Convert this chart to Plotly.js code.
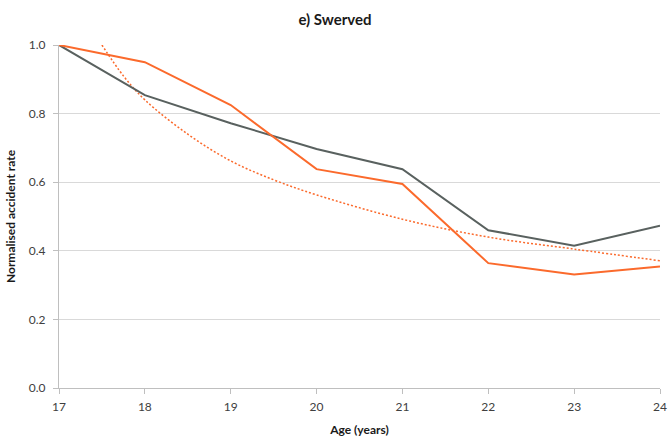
<!DOCTYPE html>
<html>
<head>
<meta charset="utf-8">
<script src="https://cdn.plot.ly/plotly-3.0.1.min.js"></script>
<style>html,body{margin:0;padding:0;background:#fff;}#chart{width:670px;height:442px;}</style>
</head>
<body>
<div id="chart"></div>
<script>
const ages = [17, 18, 19, 20, 21, 22, 23, 24];
const graySeries = [1.0, 0.854, 0.772, 0.697, 0.638, 0.460, 0.415, 0.473];
const orangeSeries = [1.0, 0.950, 0.825, 0.638, 0.595, 0.364, 0.331, 0.354];
const trendAges = [17.5, 17.75, 18, 18.5, 19, 19.5, 20, 21, 22, 23, 24];
const trendValues = [1.0, 0.91, 0.84, 0.74, 0.662, 0.607, 0.563, 0.492, 0.440, 0.405, 0.371];
const xTicks = [17, 18, 19, 20, 21, 22, 23, 24];
const yTicks = [0, 0.2, 0.4, 0.6, 0.8, 1.0];
const yTickText = ['0.0', '0.2', '0.4', '0.6', '0.8', '1.0'];

const orange = '#fb6a2c';
const gray = '#59615f';
const fontFam = 'Lato, "Open Sans", sans-serif';

const traces = [
  {x: trendAges, y: trendValues, mode: 'lines', line: {color: orange, width: 1.5, dash: '2px,2px', shape: 'spline'}, hoverinfo: 'skip'},
  {x: ages, y: graySeries, mode: 'lines', line: {color: gray, width: 2}},
  {x: ages, y: orangeSeries, mode: 'lines', line: {color: orange, width: 2}}
];

const layout = {
  width: 670, height: 442,
  margin: {l: 59, r: 10, t: 45, b: 54},
  paper_bgcolor: '#fff', plot_bgcolor: '#fff',
  showlegend: false,
  font: {family: fontFam, color: '#404040', size: 12},
  title: {text: '<b>e) Swerved</b>', x: 0.5, xanchor: 'center', y: 0.955, yanchor: 'middle', font: {family: fontFam, size: 15, color: '#1a1a1a'}},
  xaxis: {
    range: [17, 24], tickvals: xTicks, ticktext: xTicks.map(String),
    showgrid: false, zeroline: false,
    showline: true, linecolor: '#bfbfbf', linewidth: 1,
    ticks: 'outside', ticklen: 5, tickcolor: '#bfbfbf',
    ticklabelstandoff: 3,
    tickfont: {family: fontFam, size: 12, color: '#404040'},
    title: {text: '<b>Age (years)</b>', font: {family: fontFam, size: 12, color: '#1a1a1a'}, standoff: 12}
  },
  yaxis: {
    range: [0, 1.0], tickvals: yTicks, ticktext: yTickText,
    showgrid: true, gridcolor: '#d9d9d9', gridwidth: 1, zeroline: false,
    showline: true, linecolor: '#bfbfbf', linewidth: 1,
    ticks: 'outside', ticklen: 5, tickcolor: '#bfbfbf',
    ticklabelstandoff: 5,
    tickfont: {family: fontFam, size: 12, color: '#404040'},
    title: {text: '<b>Normalised accident rate</b>', font: {family: fontFam, size: 12, color: '#1a1a1a'}, standoff: 10}
  }
};

Plotly.newPlot('chart', traces, layout, {displayModeBar: false, staticPlot: true});
</script>
</body>
</html>
